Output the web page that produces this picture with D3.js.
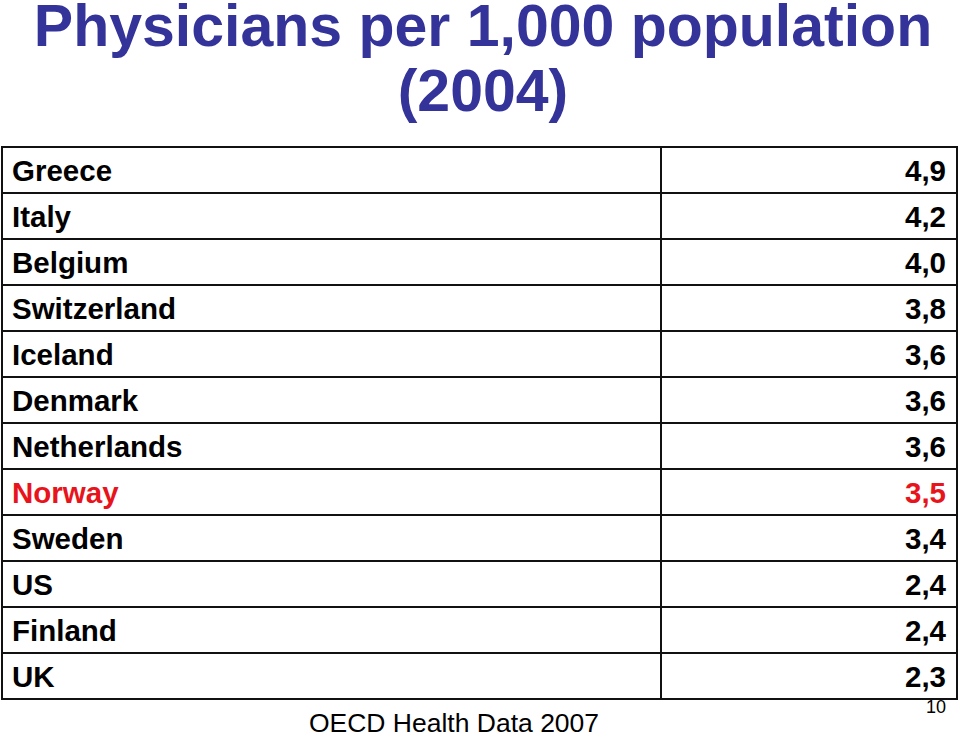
<!DOCTYPE html>
<html><head><meta charset="utf-8">
<script src="https://cdn.jsdelivr.net/npm/d3@7"></script>
<style>body{margin:0;background:#fff}svg{display:block}</style>
</head><body>
<script>
const titleLines = ["Physicians per 1,000 population", "(2004)"];
const countries = ["Greece","Italy","Belgium","Switzerland","Iceland","Denmark","Netherlands","Norway","Sweden","US","Finland","UK"];
const values = [4.9,4.2,4.0,3.8,3.6,3.6,3.6,3.5,3.4,2.4,2.4,2.3];
const highlight = ["Norway"];
const source = "OECD Health Data 2007";
const pageNumber = "10";

const W = 960, H = 737;
const svg = d3.select("body").append("svg").attr("width", W).attr("height", H);
const font = "Liberation Sans, Arial, Helvetica, sans-serif";

svg.selectAll("text.title").data(titleLines).join("text")
  .attr("class","title")
  .attr("x", 483).attr("y", (d,i) => 46 + i*65)
  .attr("text-anchor","middle")
  .attr("font-family", font).attr("font-weight","bold").attr("font-size", 59)
  .attr("fill","#333399").text(d => d);

const left = 2, right = 957, divX = 661;
const y = d3.scaleBand().domain(countries).range([147, 699]);
const fmt = v => d3.format(".1f")(v).replace(".", ",");

const rows = svg.append("g").selectAll("g").data(countries).join("g")
  .attr("transform", d => `translate(0,${y(d)})`);

rows.append("text").attr("x", 12).attr("y", y.bandwidth()/2 + 11)
  .attr("font-family", font).attr("font-weight","bold").attr("font-size", 29.5)
  .attr("fill", d => highlight.includes(d) ? "#e8141c" : "#000").text(d => d);
rows.append("text").attr("x", 946).attr("y", y.bandwidth()/2 + 11)
  .attr("text-anchor","end")
  .attr("font-family", font).attr("font-weight","bold").attr("font-size", 29.5)
  .attr("fill", (d,i) => highlight.includes(d) ? "#e8141c" : "#000").text((d,i) => fmt(values[i]));

const grid = svg.append("g").attr("stroke","#111").attr("stroke-width",2).attr("fill","none");
grid.append("rect").attr("x", left).attr("y", y.range()[0]).attr("width", right-left).attr("height", y.range()[1]-y.range()[0]);
grid.selectAll("line.h").data(countries.slice(1)).join("line").attr("class","h")
  .attr("x1", left).attr("x2", right).attr("y1", d => y(d)).attr("y2", d => y(d));
grid.append("line").attr("x1", divX).attr("x2", divX).attr("y1", y.range()[0]).attr("y2", y.range()[1]);

svg.append("text").attr("x", 454).attr("y", 732).attr("text-anchor","middle")
  .attr("font-family", font).attr("font-size", 26.5).attr("fill","#000").text(source);
svg.append("text").attr("x", 946).attr("y", 713).attr("text-anchor","end")
  .attr("font-family", font).attr("font-size", 18).attr("fill","#000").text(pageNumber);
</script>
</body></html>
